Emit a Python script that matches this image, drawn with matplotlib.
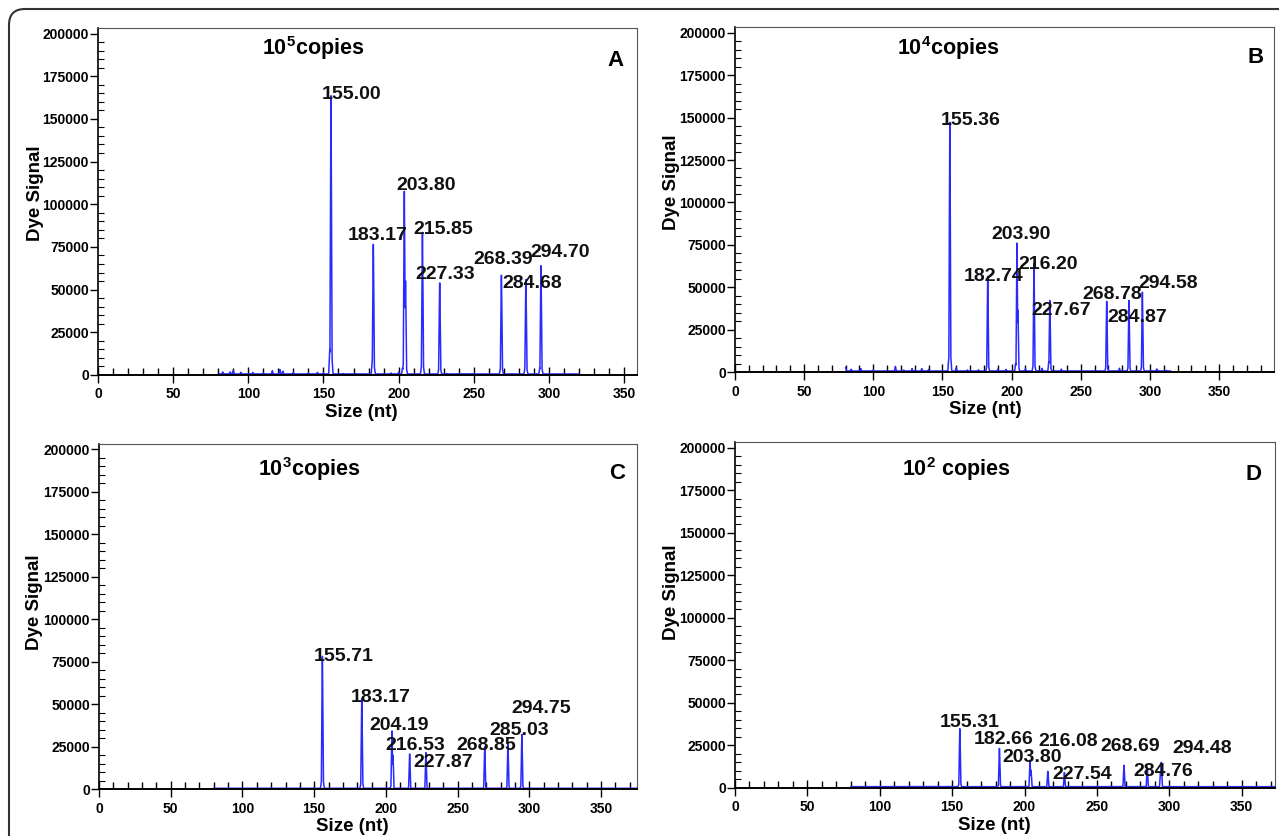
import numpy as np
import matplotlib
matplotlib.use("Agg")
import matplotlib.pyplot as plt
from matplotlib.patches import FancyBboxPatch
from matplotlib.transforms import IdentityTransform
from matplotlib.ticker import MultipleLocator

plt.rcParams['font.family'] = ['Liberation Sans', 'DejaVu Sans']
plt.rcParams['mathtext.fontset'] = 'custom'
plt.rcParams['mathtext.rm'] = 'Liberation Sans:bold'
plt.rcParams['mathtext.bf'] = 'Liberation Sans:bold'

# ---- data ----
# panel A: 10^5 copies
a_peaks = [155.00, 183.17, 203.80, 215.85, 227.33, 268.39, 284.68, 294.70]
a_heights = [163500, 78000, 107600, 83500, 55000, 59000, 57000, 64000]
a_minor_x = [154.2, 182.5, 204.6, 202.6, 215.2, 267.7, 284.0, 293.9]
a_minor_y = [15000, 9000, 55000, 4000, 5000, 4000, 4000, 4000]
a_noise_x = [83, 88, 90, 95, 103, 110, 116, 121, 123, 130, 140, 146, 150, 163, 172, 195, 200, 232, 250]
a_noise_y = [1800, 1800, 2600, 1600, 1500, 1200, 2500, 3200, 2200, 1500, 1300, 1500, 1200, 900, 800, 1200, 1600, 900, 700]

# panel B: 10^4 copies
b_peaks = [155.36, 182.74, 203.90, 216.20, 227.67, 268.78, 284.87, 294.58]
b_heights = [148700, 57000, 76000, 64000, 43000, 42500, 43000, 48000]
b_minor_x = [204.6, 154.6, 226.9, 202.9]
b_minor_y = [36500, 8000, 6000, 5000]
b_noise_x = [80, 84, 91, 100, 116, 122, 128, 135, 140, 160, 168, 176, 190, 196, 210, 222, 236, 278, 305, 312]
b_noise_y = [2600, 1600, 2000, 1200, 3300, 1200, 2000, 2000, 1500, 2500, 1200, 1300, 1600, 1500, 1700, 2200, 1700, 2200, 1800, 1000]

# panel C: 10^3 copies
c_peaks = [155.71, 183.17, 204.19, 216.53, 227.87, 268.85, 285.03, 294.75]
c_heights = [79000, 54600, 34700, 21200, 22000, 25000, 27300, 32300]
c_minor_x = [204.9]
c_minor_y = [20000]
c_noise_x = [120, 140, 150]
c_noise_y = [900, 900, 1000]

# panel D: 10^2 copies
d_peaks = [155.31, 182.66, 203.80, 216.08, 227.54, 268.69, 284.76, 294.48]
d_heights = [35000, 23300, 16200, 9800, 9000, 13300, 12000, 15200]
d_minor_x = [204.5, 293.9]
d_minor_y = [10000, 9000]
d_noise_x = [140, 150]
d_noise_y = [700, 700]

titles = [r'10$^{\bf 5}$copies', r'10$^{\bf 4}$copies', r'10$^{\bf 3}$copies', r'10$^{\bf 2}$ copies']
letters = ['A', 'B', 'C', 'D']

# ---- layout (label anchors in data coords, left edge / vertical centre) ----
a_lab_x = [149.0, 166.2, 198.3, 209.6, 211.2, 249.8, 269.3, 287.8]
a_lab_y = [164100, 81800, 111200, 85300, 58800, 67600, 53500, 71800]
b_lab_x = [148.8, 165.4, 185.7, 205.2, 214.6, 251.5, 269.2, 292.0]
b_lab_y = [148300, 56200, 81200, 63500, 36200, 45800, 32300, 52300]
c_lab_x = [149.6, 175.7, 188.6, 199.9, 219.3, 249.2, 272.0, 287.6]
c_lab_y = [78000, 54200, 37600, 25900, 15600, 25900, 34700, 47400]
d_lab_x = [141.2, 165.2, 184.9, 209.5, 219.4, 252.4, 275.0, 302.1]
d_lab_y = [38100, 28400, 17600, 27400, 8000, 24500, 9800, 23100]

W, H = 1279, 836
panels = [
    dict(px=(98, 375, 637, 28), xmax=358.6, peaks=a_peaks, h=a_heights, mx=a_minor_x, my=a_minor_y,
         nx=a_noise_x, ny=a_noise_y, lx=a_lab_x, ly=a_lab_y, title=(0.40, 0.943), letter=(0.961, 0.906),
         xl=(0.488, -0.109), yl=(-0.116, 0.524), start=80, end=320),
    dict(px=(735, 372, 1273.5, 27.3), xmax=389.4, peaks=b_peaks, h=b_heights, mx=b_minor_x, my=b_minor_y,
         nx=b_noise_x, ny=b_noise_y, lx=b_lab_x, ly=b_lab_y, title=(0.396, 0.941), letter=(0.967, 0.913),
         xl=(0.464, -0.110), yl=(-0.117, 0.552), start=80, end=315),
    dict(px=(99, 789.3, 637, 444), xmax=375, peaks=c_peaks, h=c_heights, mx=c_minor_x, my=c_minor_y,
         nx=c_noise_x, ny=c_noise_y, lx=c_lab_x, ly=c_lab_y, title=(0.391, 0.927), letter=(0.963, 0.915),
         xl=(0.47, -0.108), yl=(-0.119, 0.543), start=80, end=375),
    dict(px=(735, 787.7, 1275, 442), xmax=373, peaks=d_peaks, h=d_heights, mx=d_minor_x, my=d_minor_y,
         nx=d_noise_x, ny=d_noise_y, lx=d_lab_x, ly=d_lab_y, title=(0.41, 0.922), letter=(0.96, 0.907),
         xl=(0.48, -0.110), yl=(-0.118, 0.567), start=80, end=373),
]

# peak shape used for every peak (relative offset in nt, relative height)
kx = [-1.4, -0.7, -0.25, 0, 0.25, 0.7, 1.4]
ky = [0, 0.06, 0.75, 1, 0.75, 0.06, 0]


def trace(pos, hts, start, end, base=600):
    x = np.arange(start, end, 0.05)
    y = np.full_like(x, base, dtype=float)
    for p, h in zip(pos, hts):
        y = np.maximum(y, h * np.interp(x - p, kx, ky, left=0, right=0))
    return x, y


fig = plt.figure(figsize=(W / 100, H / 100), dpi=100)

frame = FancyBboxPatch((9, -60), 1400, H - 9 + 60, boxstyle='round,pad=0,rounding_size=16',
                       transform=IdentityTransform(), fill=False, ec='#333333', lw=1.5)
fig.add_artist(frame)

for i, p in enumerate(panels):
    l, b, r, t = p['px']
    ax = fig.add_axes([l / W, 1 - b / H, (r - l) / W, (b - t) / H])
    ytop = 200000 * (b - t) / (b - (t + 5.5))
    ax.set_xlim(0, p['xmax'])
    ax.set_ylim(0, ytop)

    x, y = trace(p['peaks'] + p['mx'] + p['nx'], p['h'] + p['my'] + p['ny'], p['start'], p['end'])
    ax.plot(x, y, color='#2a2aff', lw=1.1)

    for lab, lx, ly in zip(p['peaks'], p['lx'], p['ly']):
        ax.text(lx, ly, f'{lab:.2f}', fontsize=14, fontweight='bold', ha='left', va='center',
                color='#111111')

    ax.text(p['title'][0], p['title'][1], titles[i], transform=ax.transAxes, ha='center', va='center',
            fontsize=15.5, fontweight='bold')
    ax.text(p['letter'][0], p['letter'][1], letters[i], transform=ax.transAxes, ha='center', va='center',
            fontsize=16, fontweight='bold')
    ax.text(p['xl'][0], p['xl'][1], 'Size (nt)', transform=ax.transAxes, ha='center', va='center',
            fontsize=13.5, fontweight='bold')
    ax.text(p['yl'][0], p['yl'][1], 'Dye Signal', transform=ax.transAxes, ha='center', va='center',
            fontsize=13.5, fontweight='bold', rotation=90)

    ax.xaxis.set_major_locator(MultipleLocator(50))
    ax.xaxis.set_minor_locator(MultipleLocator(10))
    ax.yaxis.set_major_locator(MultipleLocator(25000))
    ax.yaxis.set_minor_locator(MultipleLocator(5000))
    ax.ticklabel_format(style='plain', useOffset=False)
    ax.tick_params(axis='x', which='major', direction='inout', length=12, width=1, pad=3)
    ax.tick_params(axis='x', which='minor', direction='in', length=5, width=1)
    ax.tick_params(axis='y', which='major', direction='out', length=6, width=1, pad=0.5)
    ax.tick_params(axis='y', which='minor', direction='in', length=4, width=0.8)
    for lb in ax.get_xticklabels() + ax.get_yticklabels():
        lb.set_fontweight('bold')
        lb.set_fontsize(10)
    ax.spines['left'].set_linewidth(1.2)
    ax.spines['bottom'].set_linewidth(1.4)
    for s in ['top', 'right']:
        ax.spines[s].set_linewidth(0.8)
        ax.spines[s].set_color('#555555')

fig.savefig('out.png', dpi=100)
